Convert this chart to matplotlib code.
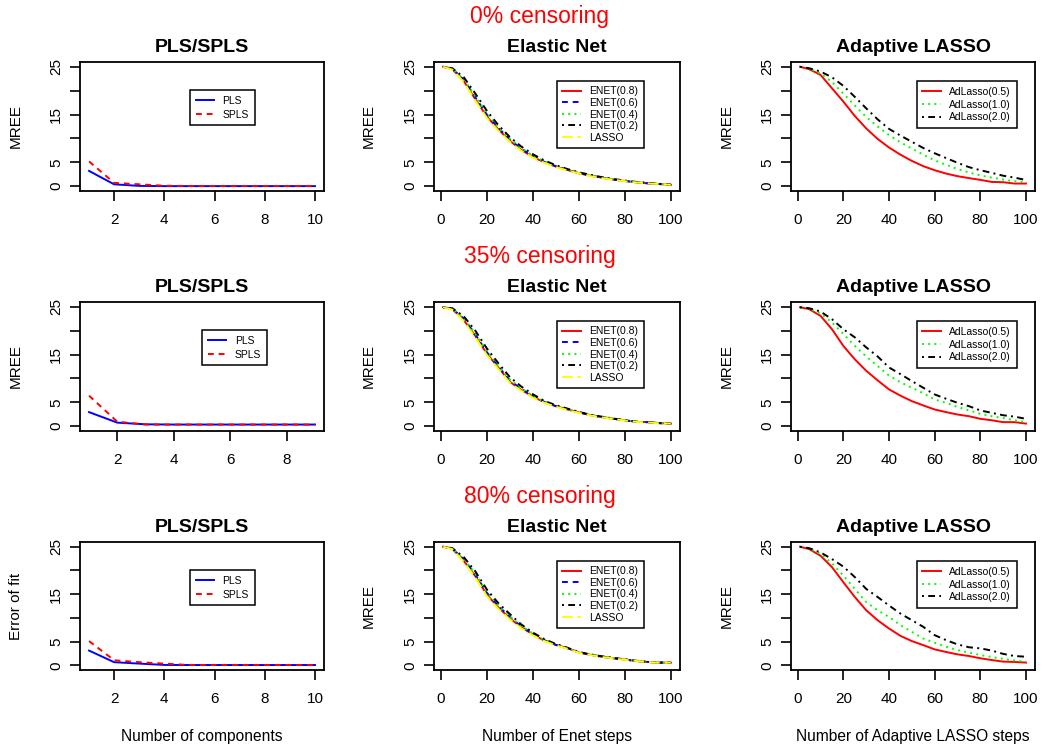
import matplotlib

matplotlib.use("Agg")
import matplotlib.pyplot as plt

plt.rcParams["font.family"] = ["Liberation Sans", "DejaVu Sans"]

# ---- data ----------------------------------------------------------------- #
row_titles = ["0% censoring", "35% censoring", "80% censoring"]

comp_0 = [1, 2, 3, 4, 5, 6, 7, 8, 9, 10]
pls_0 = [3.2, 0.4, 0.07, 0.02, 0.02, 0.02, 0.02, 0.02, 0.02, 0.02]
spls_0 = [5.2, 0.7, 0.4, 0.1, 0.05, 0.05, 0.05, 0.05, 0.05, 0.05]

comp_35 = [1, 2, 3, 4, 5, 6, 7, 8, 9]
pls_35 = [2.95, 0.75, 0.4, 0.35, 0.35, 0.35, 0.35, 0.35, 0.35]
spls_35 = [6.4, 0.95, 0.35, 0.35, 0.35, 0.35, 0.35, 0.35, 0.35]

comp_80 = [1, 2, 3, 4, 5, 6, 7, 8, 9, 10]
pls_80 = [3.1, 0.65, 0.35, 0.07, 0.05, 0.05, 0.05, 0.05, 0.05, 0.05]
spls_80 = [5.1, 1.05, 0.65, 0.35, 0.05, 0.05, 0.05, 0.05, 0.05, 0.05]

steps = [1, 5, 10, 15, 20, 25, 30, 35, 40, 45, 50,
         55, 60, 65, 70, 75, 80, 85, 90, 95, 100]

enet08_0 = [25.0, 24.5, 22.0, 18.2, 14.6, 11.9, 9.5, 7.6, 6.1, 5.0, 4.1,
            3.4, 2.7, 2.2, 1.8, 1.4, 1.1, 0.8, 0.6, 0.45, 0.3]
enet06_0 = [25.0, 24.6, 22.3, 18.6, 15.0, 12.2, 9.8, 7.8, 6.3, 5.1, 4.2,
            3.4, 2.8, 2.2, 1.8, 1.4, 1.1, 0.85, 0.6, 0.45, 0.3]
enet04_0 = [25.0, 24.6, 22.4, 18.8, 15.2, 12.3, 9.9, 8.0, 6.4, 5.2, 4.2,
            3.5, 2.8, 2.3, 1.8, 1.4, 1.1, 0.85, 0.65, 0.5, 0.3]
enet02_0 = [25.0, 24.7, 22.8, 19.4, 15.8, 12.8, 10.3, 8.3, 6.7, 5.4, 4.4,
            3.6, 2.9, 2.4, 1.9, 1.5, 1.2, 0.9, 0.7, 0.5, 0.35]
lasso_0 = [25.0, 24.4, 21.8, 17.9, 14.3, 11.6, 9.3, 7.4, 6.0, 4.9, 4.0,
           3.3, 2.7, 2.1, 1.7, 1.35, 1.05, 0.8, 0.6, 0.45, 0.3]

enet08_35 = [24.9, 24.5, 22.2, 18.9, 15.2, 12.3, 9.3, 7.6, 6.2, 5.0, 4.2,
             3.5, 2.9, 2.3, 1.9, 1.55, 1.25, 0.9, 0.85, 0.65, 0.55]
enet06_35 = [24.9, 24.6, 22.5, 19.2, 15.5, 12.5, 9.6, 7.8, 6.3, 5.1, 4.2,
             3.5, 2.9, 2.35, 1.9, 1.55, 1.25, 0.9, 0.85, 0.65, 0.55]
enet04_35 = [24.9, 24.6, 22.6, 19.4, 15.7, 12.6, 9.8, 7.9, 6.4, 5.1, 4.3,
             3.6, 2.9, 2.35, 1.9, 1.6, 1.3, 0.95, 0.85, 0.65, 0.55]
enet02_35 = [24.9, 24.7, 23.0, 20.0, 16.3, 13.2, 10.3, 8.3, 6.7, 5.3, 4.4,
             3.7, 3.0, 2.4, 2.0, 1.6, 1.3, 0.95, 0.85, 0.65, 0.55]
lasso_35 = [24.9, 24.4, 22.0, 18.6, 14.9, 12.0, 9.1, 7.4, 6.0, 4.9, 4.1,
            3.4, 2.8, 2.25, 1.85, 1.5, 1.2, 0.9, 0.8, 0.6, 0.55]

enet08_80 = [25.0, 24.6, 22.0, 18.8, 14.9, 12.2, 9.9, 8.0, 6.5, 5.2, 4.3,
             3.6, 2.7, 2.2, 1.8, 1.45, 1.2, 0.9, 0.7, 0.55, 0.55]
enet06_80 = [25.0, 24.6, 22.3, 19.1, 15.3, 12.5, 10.2, 8.2, 6.6, 5.3, 4.3,
             3.6, 2.7, 2.25, 1.8, 1.5, 1.2, 0.9, 0.7, 0.55, 0.55]
enet04_80 = [25.0, 24.6, 22.4, 19.3, 15.5, 12.6, 10.3, 8.3, 6.7, 5.3, 4.4,
             3.6, 2.75, 2.25, 1.85, 1.5, 1.2, 0.95, 0.7, 0.55, 0.55]
enet02_80 = [25.0, 24.7, 22.8, 19.8, 16.0, 13.1, 10.8, 8.6, 6.9, 5.5, 4.5,
             3.7, 2.8, 2.3, 1.9, 1.55, 1.25, 0.95, 0.7, 0.6, 0.55]
lasso_80 = [25.0, 24.5, 21.8, 18.5, 14.6, 11.9, 9.7, 7.8, 6.3, 5.1, 4.2,
            3.5, 2.65, 2.15, 1.75, 1.45, 1.15, 0.9, 0.7, 0.55, 0.55]

adl05_0 = [25.0, 24.5, 23.3, 20.5, 17.7, 14.7, 12.1, 9.9, 8.1, 6.6, 5.3,
           4.2, 3.35, 2.65, 2.1, 1.7, 1.33, 0.9, 0.84, 0.56, 0.56]
adl10_0 = [25.0, 24.6, 23.6, 21.8, 19.4, 16.9, 14.5, 12.5, 10.7, 9.2, 7.9,
           6.6, 5.4, 4.5, 3.6, 2.9, 2.25, 1.8, 1.4, 1.05, 0.8]
adl20_0 = [25.0, 24.7, 24.0, 22.8, 21.0, 18.7, 16.3, 14.0, 12.0, 10.6, 9.3,
           8.0, 6.9, 5.9, 4.9, 4.0, 3.35, 2.8, 2.2, 1.8, 1.3]

adl05_35 = [24.9, 24.5, 23.1, 20.3, 16.8, 14.0, 11.6, 9.6, 7.7, 6.4, 5.25,
            4.35, 3.5, 2.95, 2.45, 2.1, 1.55, 1.25, 0.85, 0.85, 0.55]
adl10_35 = [24.9, 24.6, 23.6, 21.7, 19.3, 16.8, 14.6, 12.6, 10.6, 9.2, 8.05,
            6.9, 5.6, 4.9, 4.05, 3.3, 2.6, 2.1, 1.7, 1.25, 0.85]
adl20_35 = [24.9, 24.7, 24.0, 22.4, 20.3, 18.6, 16.5, 14.6, 12.3, 10.9, 9.45,
            8.05, 6.65, 5.75, 4.9, 4.2, 3.3, 2.8, 2.3, 2.0, 1.55]

adl05_80 = [25.0, 24.5, 23.1, 20.7, 17.5, 14.4, 11.6, 9.5, 7.75, 6.2, 5.1,
            4.25, 3.35, 2.8, 2.3, 1.95, 1.47, 1.1, 0.77, 0.7, 0.56]
adl10_80 = [25.0, 24.6, 23.5, 21.5, 18.9, 16.1, 13.3, 11.6, 10.2, 8.45, 7.05,
            5.65, 4.75, 3.9, 3.2, 2.65, 2.16, 1.75, 1.35, 1.0, 0.77]
adl20_80 = [25.0, 24.7, 23.8, 22.4, 20.8, 18.6, 16.1, 14.4, 12.6, 10.9, 9.5,
            8.1, 6.35, 5.3, 4.4, 3.8, 3.56, 3.1, 2.4, 1.95, 1.8]

pls_rows = [(comp_0, pls_0, spls_0, [2, 4, 6, 8, 10]),
            (comp_35, pls_35, spls_35, [2, 4, 6, 8]),
            (comp_80, pls_80, spls_80, [2, 4, 6, 8, 10])]
enet_rows = [(enet08_0, enet06_0, enet04_0, enet02_0, lasso_0),
             (enet08_35, enet06_35, enet04_35, enet02_35, lasso_35),
             (enet08_80, enet06_80, enet04_80, enet02_80, lasso_80)]
adl_rows = [(adl05_0, adl10_0, adl20_0),
            (adl05_35, adl10_35, adl20_35),
            (adl05_80, adl10_80, adl20_80)]

enet_labels = ["ENET(0.8)", "ENET(0.6)", "ENET(0.4)", "ENET(0.2)", "LASSO"]
adl_labels = ["AdLasso(0.5)", "AdLasso(1.0)", "AdLasso(2.0)"]
step_ticks = [0, 20, 40, 60, 80, 100]
y_ticks = [0, 5, 10, 15, 20, 25]
y_ticklabels = ["0", "5", "", "15", "", "25"]

# ---- styles (R-like) ------------------------------------------------------ #
LW = 1.4
SOLID = "-"
DASHED = (0, (3, 2.5))
DOTTED = (0, (1, 2.2))
DOTDASH = (0, (1, 2.2, 3.5, 2.2))
LONGDASH = (0, (5.5, 2.5))
enet_styles = [("#FF0000", SOLID), ("#0000FF", DASHED), ("#00FF00", DOTTED),
               ("#000000", DOTDASH), ("#FFFF00", LONGDASH)]
adl_styles = [("#FF0000", SOLID), ("#00FF00", DOTTED), ("#000000", DOTDASH)]

W, H = 1047, 750
cols_px = [(80, 324), (434, 680), (791, 1035)]
rows_px = [(62, 191), (302, 431), (542, 670)]

fig = plt.figure(figsize=(W / 100, H / 100), dpi=100)


def make_axes(col, row):
    x0, x1 = cols_px[col]
    y0, y1 = rows_px[row]
    ax = fig.add_axes([x0 / W, 1 - y1 / H, (x1 - x0) / W, (y1 - y0) / H])
    for sp in ax.spines.values():
        sp.set_linewidth(1.3)
    ax.tick_params(direction="out", length=7, width=1.2, labelsize=11)
    ax.tick_params(axis="x", pad=9)
    ax.tick_params(axis="y", pad=5)
    ax.set_ylim(-1, 26)
    ax.set_yticks(y_ticks)
    ax.set_yticklabels(y_ticklabels, rotation=90, va="center")
    return ax


def r_legend(ax, x_left, y_top, pad, spacing):
    leg = ax.legend(loc="upper left", bbox_to_anchor=(x_left, y_top),
                    borderaxespad=0, fontsize=7.5, fancybox=False,
                    framealpha=1, edgecolor="black", handlelength=1.8,
                    handletextpad=0.8, borderpad=pad,
                    labelspacing=spacing)
    leg.get_frame().set_linewidth(1.1)
    return leg


x_label_text = ["Number of components", "Number of Enet steps",
                "Number of Adaptive LASSO steps"]

for r in range(3):
    # row heading
    fig.text(540 / W, 1 - (rows_px[r][0] - 45) / H, row_titles[r],
             color="#FF0000", fontsize=16.5, ha="center", va="center")

    # PLS / SPLS
    comp, pls, spls, xt = pls_rows[r]
    ax = make_axes(0, r)
    ax.plot(comp, pls, color="#0000FF", lw=LW, ls=SOLID, label="PLS")
    ax.plot(comp, spls, color="#FF0000", lw=LW, ls=DASHED, label="SPLS")
    span = comp[-1] - comp[0]
    ax.set_xlim(comp[0] - 0.04 * span, comp[-1] + 0.04 * span)
    ax.set_xticks(xt)
    ax.set_ylabel("Error of fit" if r == 2 else "MREE", fontsize=11)
    ax.yaxis.set_label_coords(-0.235, 0.5)
    lx = 0.50 if r == 1 else 0.45
    r_legend(ax, lx, 0.78, 0.55, 0.35)
    ax.text(0.5, 1.115, "PLS/SPLS", transform=ax.transAxes, ha="center",
            va="center", fontsize=14, fontweight="bold")

    # Elastic net
    ax = make_axes(1, r)
    for vals, (c, ls), lab in zip(enet_rows[r], enet_styles, enet_labels):
        ax.plot(steps, vals, color=c, ls=ls, lw=LW, label=lab)
    ax.set_xlim(1 - 0.04 * 99, 100 + 0.04 * 99)
    ax.set_xticks(step_ticks)
    ax.set_ylabel("MREE", fontsize=11)
    ax.yaxis.set_label_coords(-0.235, 0.5)
    r_legend(ax, 0.498, 0.855, 0.55, 0.15)
    ax.text(0.5, 1.115, "Elastic Net", transform=ax.transAxes, ha="center",
            va="center", fontsize=14, fontweight="bold")

    # Adaptive LASSO
    ax = make_axes(2, r)
    for vals, (c, ls), lab in zip(adl_rows[r], adl_styles, adl_labels):
        ax.plot(steps, vals, color=c, ls=ls, lw=LW, label=lab)
    ax.set_xlim(1 - 0.04 * 99, 100 + 0.04 * 99)
    ax.set_xticks(step_ticks)
    ax.set_ylabel("MREE", fontsize=11)
    ax.yaxis.set_label_coords(-0.235, 0.5)
    r_legend(ax, 0.515, 0.85, 0.55, 0.25)
    ax.text(0.5, 1.115, "Adaptive LASSO", transform=ax.transAxes,
            ha="center", va="center", fontsize=14, fontweight="bold")

for c in range(3):
    x0, x1 = cols_px[c]
    fig.text((x0 + x1) / 2 / W, 1 - 737 / H, x_label_text[c], fontsize=11.2,
             ha="center", va="center")

fig.savefig("out.png", dpi=100)
